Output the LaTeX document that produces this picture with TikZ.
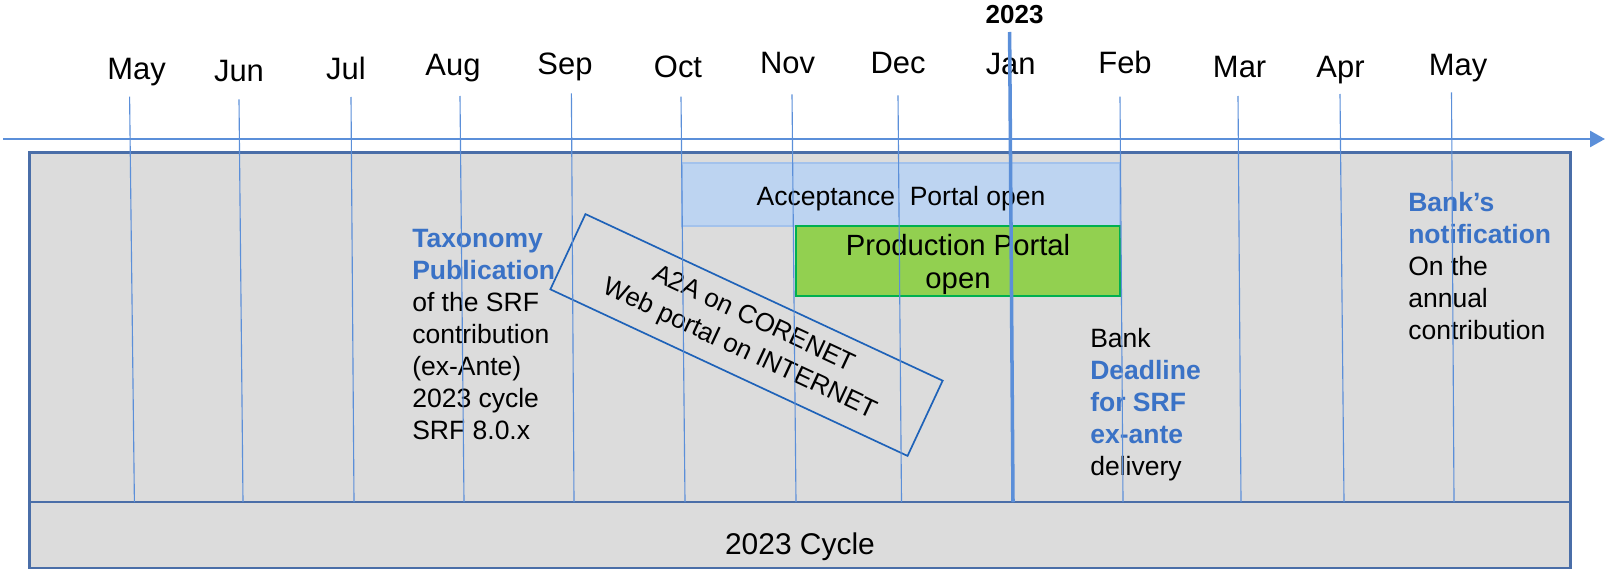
\documentclass[tikz,border=0pt]{standalone}
\usepackage{fontspec}
\setmainfont{Liberation Sans}
\usepackage{xcolor}
\usetikzlibrary{positioning, arrows.meta}

\definecolor{axisblue}{HTML}{5B8FD9}
\definecolor{frameblue}{HTML}{4A6EA8}
\definecolor{boxgray}{HTML}{DCDCDC}
\definecolor{accfill}{HTML}{BDD4F1}
\definecolor{accdraw}{HTML}{A3C2EC}
\definecolor{prodfill}{HTML}{92D050}
\definecolor{proddraw}{HTML}{00B050}
\definecolor{a2ablue}{HTML}{1E62B8}
\definecolor{textblue}{HTML}{3A72C6}

\begin{document}
\begin{tikzpicture}[x=0.025cm, y=-0.025cm,
    monthlabel/.style={anchor=base, inner sep=0pt, font=\fontsize{22}{26}\selectfont},
    monthline/.style={draw=axisblue, line width=0.8pt},
    notetext/.style={anchor=north west, align=left, inner sep=0pt, font=\fontsize{18.85}{22.76}\selectfont},
    cyclebox/.style={draw=frameblue, fill=boxgray, line width=2.1pt, minimum width=38.5cm, inner sep=0pt}]

    % Canvas
    \useasboundingbox (0,0) rectangle (1609,571);

    % Time axis
    \coordinate (axisstart) at (3,139);
    \coordinate (axisend) at (1605,139);
    \draw[axisblue, line width=1.9pt, -{Triangle[length=0.375cm, width=0.4cm]}] (axisstart) -- (axisend);

    % Cycle frame
    \node[cyclebox, minimum height=8.725cm] (frame) at (800,327.5) {};
    \node[cyclebox, minimum height=1.65cm, text height=0.95cm, text depth=0pt,
          font=\fontsize{21.3}{25}\selectfont] (cycle) at (800,535) {2023 Cycle};

    % Portal windows
    \node[draw=accdraw, fill=accfill, line width=1.4pt, minimum width=10.95cm, minimum height=1.575cm,
          text height=0.525cm, text depth=0pt, inner sep=0pt,
          font=\fontsize{18.85}{22}\selectfont] (accept) at (901,194.5) {Acceptance\ \ Portal open};
    \node[draw=proddraw, fill=prodfill, line width=2pt, minimum width=8.1cm, minimum height=1.75cm,
          align=center, inner sep=0pt, font=\fontsize{20.8}{23.5}\selectfont] (prod) at (958,261) {\rule{0pt}{19.5pt}Production Portal\\open};

    % Channels
    \node[draw=a2ablue, line width=1.2pt, rotate=-25, minimum width=9.85cm, minimum height=2.075cm,
          align=center, font=\fontsize{18.5}{23.5}\selectfont] (a2a) at (746.5,335) {A2A on CORENET\\Web portal on INTERNET};

    % Notes
    \node[notetext] (taxonomy) at (412,229)
        {\textcolor{textblue}{\bfseries Taxonomy}\\\textcolor{textblue}{\bfseries Publication}\\of the SRF\\contribution\\(ex-Ante)\\2023 cycle\\SRF 8.0.x};
    \node[notetext] (deadline) at (1090,328)
        {Bank\\\textcolor{textblue}{\bfseries Deadline}\\\textcolor{textblue}{\bfseries for SRF}\\\textcolor{textblue}{\bfseries ex-ante}\\delivery};
    \node[notetext] (notification) at (1408,192)
        {\textcolor{textblue}{\bfseries Bank’s}\\\textcolor{textblue}{\bfseries notification}\\On the\\annual\\contribution};

    % Months
    \foreach \name/\lx/\ly/\tx/\ty/\bx [count=\i] in {
        May/136.6/80/129.6/96.7/134.4, Jun/239/81.7/239/99.3/243, Jul/346/80/351/97/354,
        Aug/453/76/460/96/464, Sep/565/75/571.4/93.3/574, Oct/678/77.3/681/96.7/685,
        Nov/787.5/73.3/792/94.3/796, Dec/898/74/898/95.3/901.5, Jan/1010.7/75/1009.6/95/1013,
        Feb/1125/74/1120/96.7/1123, Mar/1239.6/77.3/1238/96/1241, Apr/1340.5/77.3/1340/94/1344,
        May/1458/76/1451.5/92.3/1454} {
        \node[monthlabel] (m\i) at (\lx,\ly) {\name};
        \coordinate (top\i) at (\tx,\ty);
        \coordinate (bot\i) at (\bx,502);
        \draw[monthline] (top\i) -- (bot\i);
    }

    % Year marker
    \node[anchor=base, inner sep=0pt, font=\bfseries\fontsize{18.5}{22}\selectfont] (year) at (1014.6,23.3) {2023};
    \coordinate (yeartop) at (1009.6,32);
    \coordinate (yearbot) at (1013,502);
    \draw[axisblue, line width=2.5pt] (yeartop) -- (yearbot);
\end{tikzpicture}
\end{document}
